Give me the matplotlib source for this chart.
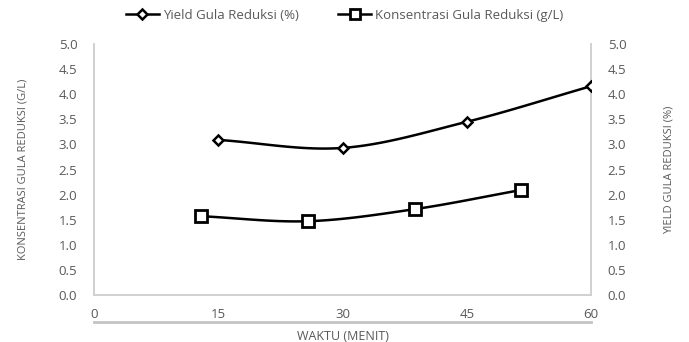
import numpy as np
import matplotlib.pyplot as plt
from matplotlib.lines import Line2D

# data
waktu = [15, 30, 45, 60]
yield_gula = [3.09, 2.93, 3.45, 4.16]
x_konsentrasi = [12.9, 25.8, 38.7, 51.5]
konsentrasi = [1.57, 1.47, 1.71, 2.09]

grey = '#595959'
spine = '#d0d0d0'
plt.rcParams['font.family'] = ['Open Sans', 'DejaVu Sans']


def smooth(x, y, n=30):
    # Catmull-Rom curve through the points (like Excel smoothed lines)
    x = np.asarray(x, float)
    y = np.asarray(y, float)
    px = np.concatenate([[2*x[0]-x[1]], x, [2*x[-1]-x[-2]]])
    py = np.concatenate([[2*y[0]-y[1]], y, [2*y[-1]-y[-2]]])
    xs, ys = [], []
    t = np.linspace(0, 1, n)
    for i in range(1, len(px) - 2):
        for p, out in ((px, xs), (py, ys)):
            p0, p1, p2, p3 = p[i-1], p[i], p[i+1], p[i+2]
            out.extend(0.5*((2*p1) + (-p0+p2)*t + (2*p0-5*p1+4*p2-p3)*t**2
                            + (-p0+3*p1-3*p2+p3)*t**3))
    return xs, ys


fig = plt.figure(figsize=(6.89, 3.42), dpi=100)
left, bottom, width, height = 0.1364, 0.1374, 0.7214, 0.7339
ax = fig.add_axes([left, bottom, width, height])
ax2 = ax.twinx()

sx, sy = smooth(x_konsentrasi, konsentrasi)
ax.plot(sx, sy, color='black', lw=1.8, zorder=2)
ax.plot(x_konsentrasi, konsentrasi, ls='none', marker='s', ms=8.5, mfc='white',
        mec='black', mew=2, zorder=3)

yx, yy = smooth(waktu, yield_gula)
ax2.plot(yx, yy, color='black', lw=1.8, zorder=2)
ax2.plot(waktu, yield_gula, ls='none', marker='D', ms=5, mfc='white',
         mec='black', mew=1.8, zorder=3)

for a in (ax, ax2):
    a.set_ylim(0, 5)
    a.set_yticks(np.arange(0, 5.01, 0.5))
    a.set_yticklabels(['%.1f' % v for v in np.arange(0, 5.01, 0.5)])
    a.tick_params(axis='y', length=0, labelsize=9.5, colors=grey, pad=12)
    a.spines['top'].set_visible(False)
    for s in ('left', 'right', 'bottom'):
        a.spines[s].set_color(spine)
        a.spines[s].set_linewidth(1.2)

ax.set_xlim(0, 60)
ax.set_xticks([0, 15, 30, 45, 60])
ax.tick_params(axis='x', length=0, labelsize=9.5, colors=grey, pad=9)
# second grey rule under the x tick labels
fig.add_artist(Line2D([left, left + width], [0.0585, 0.0585], color='#c4c4c4',
                      lw=2, zorder=5))

ax.set_xlabel('WAKTU (MENIT)', fontsize=9, color=grey, labelpad=7)
ax.set_ylabel('KONSENTRASI GULA REDUKSI (G/L)', fontsize=8, color=grey,
              labelpad=21.5)
ax2.set_ylabel('YIELD GULA REDUKSI (%)', fontsize=8, color=grey, labelpad=26.5)

h1 = Line2D([], [], color='black', lw=1.8, marker='D', ms=5, mfc='white',
            mec='black', mew=1.8)
h2 = Line2D([], [], color='black', lw=1.8, marker='s', ms=7, mfc='white',
            mec='black', mew=2)
leg = fig.legend([h1, h2], ['Yield Gula Reduksi (%)', 'Konsentrasi Gula Reduksi (g/L)'],
                 loc='center', bbox_to_anchor=(0.5, 0.955), ncol=2, frameon=False,
                 fontsize=9.5, handlelength=2.5, columnspacing=3, handletextpad=0.3)
for t in leg.get_texts():
    t.set_color(grey)

fig.savefig('out.png', dpi=100)
